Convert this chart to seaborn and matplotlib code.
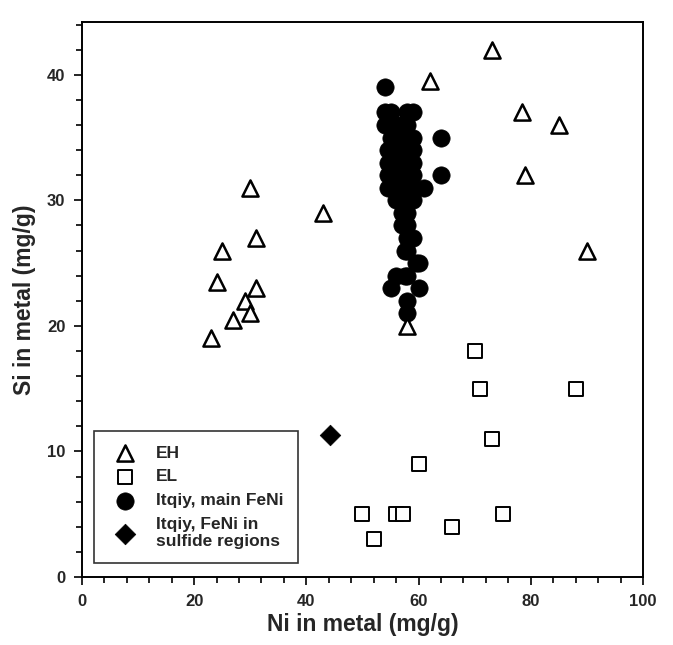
import matplotlib
matplotlib.use("Agg")
import matplotlib.pyplot as plt
import seaborn as sns
import pandas as pd
from matplotlib.ticker import MultipleLocator

sns.set_style("white")
plt.rcParams['font.family'] = ['Liberation Sans', 'DejaVu Sans']
plt.rcParams['font.weight'] = 'bold'

# EH (open triangles)
eh_ni = [73, 62, 78.5, 85, 79, 90, 30, 43, 25, 31, 24, 31, 29, 30, 27, 23, 58]
eh_si = [42, 39.5, 37, 36, 32, 26, 31, 29, 26, 27, 23.5, 23, 22, 21, 20.5, 19, 20]

# EL (open squares)
el_ni = [70, 71, 88, 73, 60, 50, 56, 57.3, 75, 52, 66]
el_si = [18, 15, 15, 11, 9, 5, 5, 5, 5, 3, 4]

# Itqiy, main FeNi (filled circles)
it_ni = [54, 54, 55, 58, 59, 54, 56, 57, 58, 64, 55, 56, 57, 58, 59,
         54.5, 55, 56, 57, 58, 59, 55, 56, 57, 58, 54.5, 59,
         54.5, 55, 56, 57, 58, 59, 64, 54.5, 55, 56, 57, 58, 59, 61,
         56, 57, 58, 59, 57, 58, 57, 58, 59, 58, 57.5, 58, 59.5, 60,
         56, 57.5, 58, 55, 60, 58, 58]
it_si = [39, 37, 37, 37, 37, 36, 36, 36, 36, 35, 35, 35, 35, 35, 35,
         34, 34, 34, 34, 34, 34, 33, 33, 33, 33, 33, 33,
         32, 32, 32, 32, 32, 32, 32, 31, 31, 31, 31, 31, 31, 31,
         30, 30, 30, 30, 29, 29, 28, 28, 27, 27, 26, 26, 25, 25,
         24, 24, 24, 23, 23, 22, 21]

# Itqiy, FeNi in sulfide regions (filled diamond)
sf_ni = [44.2]
sf_si = [11.3]

labels = ["EH", "EL", "Itqiy, main FeNi", "Itqiy, FeNi in\nsulfide regions"]

fig = plt.figure(figsize=(6.73, 6.45), dpi=100)
ax = fig.add_axes([0.1218, 0.1054, 0.8336, 0.8605])

sns.scatterplot(x=eh_ni, y=eh_si, marker='^', s=135, facecolor='white',
                edgecolor='black', linewidth=1.8, ax=ax, label=labels[0], zorder=3)
sns.scatterplot(x=el_ni, y=el_si, marker='s', s=115, facecolor='white',
                edgecolor='black', linewidth=1.4, ax=ax, label=labels[1], zorder=3)
sns.scatterplot(x=it_ni, y=it_si, marker='o', s=155, color='black',
                edgecolor='black', linewidth=0.5, ax=ax, label=labels[2], zorder=2)
sns.scatterplot(x=sf_ni, y=sf_si, marker='D', s=110, color='black',
                edgecolor='black', linewidth=0.5, ax=ax, label=labels[3], zorder=3)

ax.set_xlim(0, 100)
ax.set_ylim(0, 44.2)
ax.xaxis.set_major_locator(MultipleLocator(20))
ax.xaxis.set_minor_locator(MultipleLocator(4))
ax.yaxis.set_major_locator(MultipleLocator(10))
ax.yaxis.set_minor_locator(MultipleLocator(2))
ax.tick_params(which='both', direction='out', bottom=True, left=True,
               top=False, right=False, width=1.2, color='black')
ax.tick_params(which='major', length=6, labelsize=12, pad=6)
ax.tick_params(which='minor', length=4)
for lbl in ax.get_xticklabels() + ax.get_yticklabels():
    lbl.set_fontweight('bold')

for sp in ax.spines.values():
    sp.set_visible(True)
    sp.set_color('black')
    sp.set_linewidth(1.4)

ax.set_xlabel("Ni in metal (mg/g)", fontsize=16.5, fontweight='bold', labelpad=3)
ax.set_ylabel("Si in metal (mg/g)", fontsize=16.5, fontweight='bold', labelpad=8)

leg = ax.legend(loc='lower left', bbox_to_anchor=(0.021, 0.025), frameon=True,
                fancybox=False, edgecolor='black', fontsize=12.5,
                borderpad=0.8, labelspacing=0.5, handletextpad=0.8,
                borderaxespad=0)
leg.get_frame().set_linewidth(1.2)
for t in leg.get_texts():
    t.set_fontweight('bold')

fig.savefig("out.png", dpi=100)
